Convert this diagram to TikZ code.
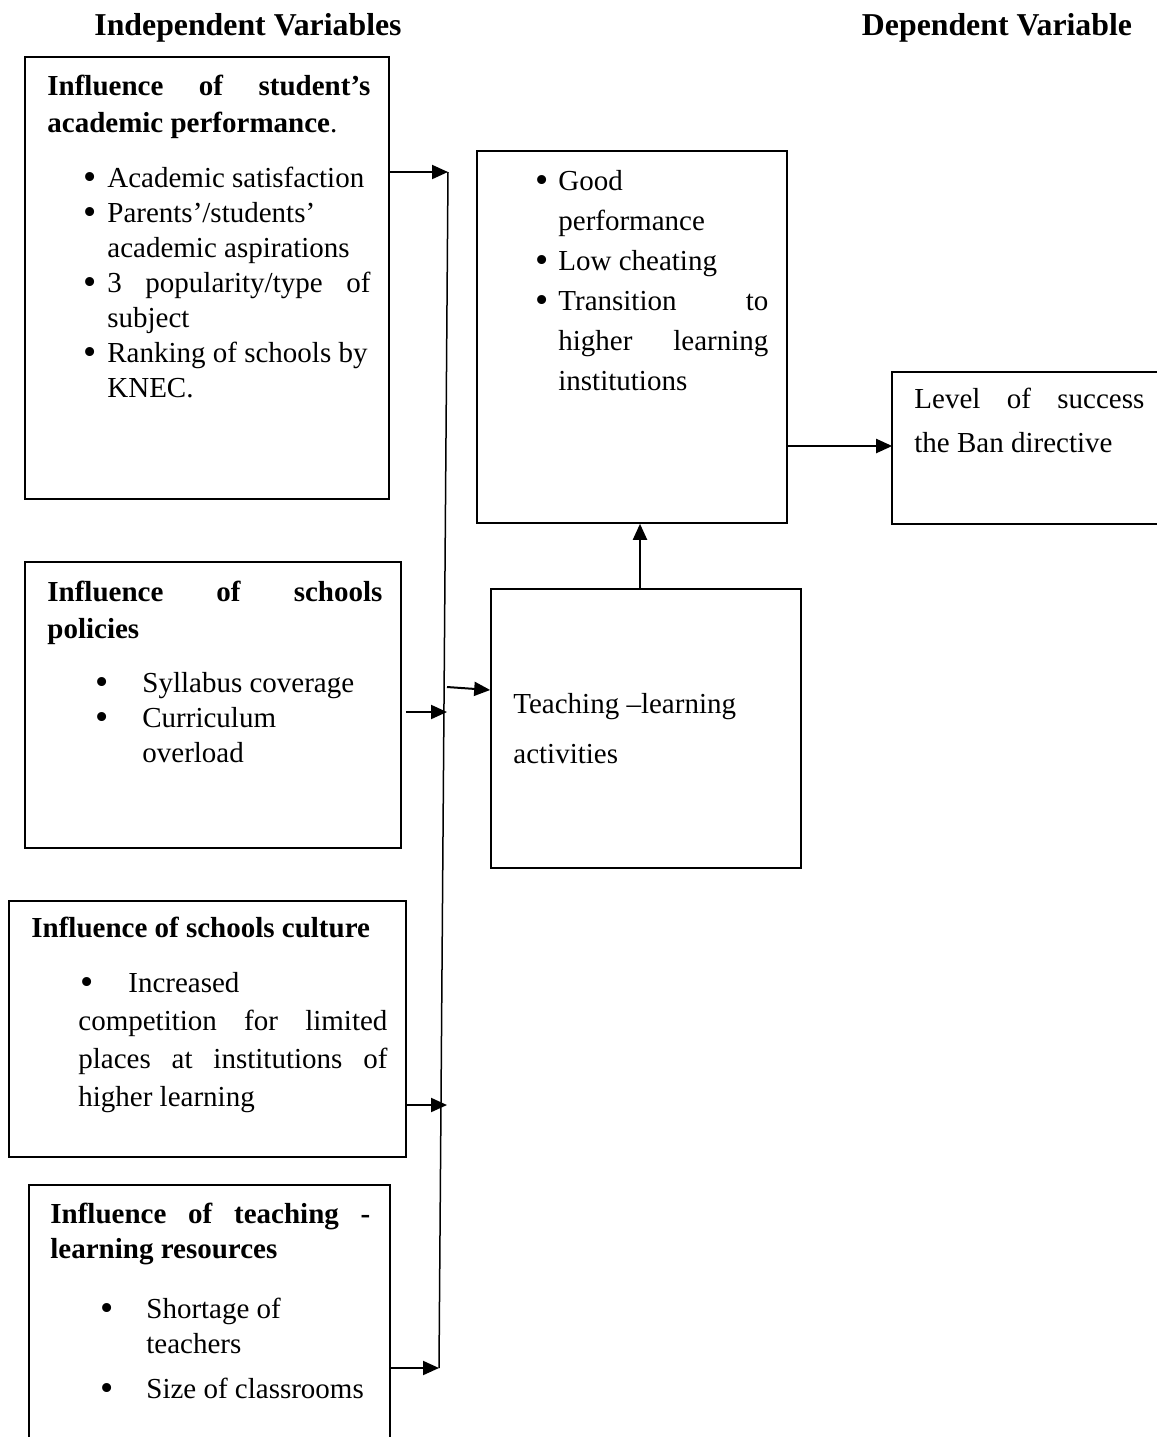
\documentclass[tikz,border=0pt]{standalone}
\usepackage{fontspec}
\setmainfont{Liberation Serif}
\usetikzlibrary{arrows.meta}
\newcommand{\bsym}{\raisebox{-0.1em}{\scalebox{1.3}{\textbullet}}}
\newcommand{\firstbul}[1]{\noindent\llap{\makebox[#1][l]{\bsym}}}
\newcommand{\bul}[1]{\par\firstbul{#1}}

\begin{document}
\begin{tikzpicture}[x=0.5pt,y=-0.5pt,
		box/.style={draw,line width=0.8pt,rectangle,inner sep=0pt},
		txt/.style={anchor=base west,inner sep=0pt,align=justify,font=\fontsize{14.5pt}{17.5pt}\selectfont},
		head/.style={anchor=base,inner sep=0pt,font=\fontsize{15.9pt}{19pt}\selectfont\bfseries},
		arr/.style={-{Triangle[length=8pt,width=7pt]},line width=1pt}]
		\useasboundingbox (0,0) rectangle (1157,1437);
		\node[head] (indep) at (248,35) {Independent Variables};
		\node[head] (dep) at (997,35) {Dependent Variable};
		\node[box,minimum width=182pt,minimum height=221pt] (acad) at (207,278) {};
		\node[box,minimum width=188pt,minimum height=143pt] (pol) at (213,705) {};
		\node[box,minimum width=198.5pt,minimum height=128pt] (cult) at (207.5,1029) {};
		\node[box,draw=none,minimum width=179.5pt,minimum height=125.5pt] (res) at (209.5,1311.5) {};
		\draw[line width=0.8pt] (res.south west) -- (res.north west) -- (res.north east) -- (res.south east);
		\node[box,minimum width=155pt,minimum height=186pt] (perf) at (632,337) {};
		\node[box,minimum width=155pt,minimum height=139.5pt] (teach) at (646,728.5) {};
		\node[box,draw=none,minimum width=132pt,minimum height=75pt] (level) at (1025,448) {};
		\draw[line width=0.8pt] (level.north east) -- (level.north west) -- (level.south west) -- (level.south east);
		\node[txt,text width=161.5pt] (acadtxt) at (47,95) {\textbf{Influence\hfill of\hfill student’s}\\[1pt]
			\textbf{academic performance}.\par\vspace{10pt}\leftskip=30pt
			\bul{12pt}Academic satisfaction
			\bul{12pt}Parents’/students’\\academic aspirations
			\bul{12pt}3\hfill popularity/type\hfill of\\subject
			\bul{12pt}Ranking of schools by\\KNEC.\par};
		\node[txt,text width=167.5pt] (poltxt) at (47,601) {\textbf{Influence\hfill of\hfill schools}\\[1pt]
			\textbf{policies}\par\vspace{9.5pt}\leftskip=47.5pt
			\bul{23.5pt}Syllabus coverage
			\bul{23.5pt}Curriculum\\overload\par};
		\node[txt,text width=178pt] (culttxt) at (31,937) {\textbf{Influence of schools culture}\par
			\vspace{8.5pt}\leftskip=23.5pt\baselineskip=19pt
			\noindent\makebox[25pt][l]{\hspace{1pt}\bsym}Increased\\
			competition\hfill for\hfill limited\\
			places\hfill at\hfill institutions\hfill of\\
			higher learning\par};
		\node[txt,text width=160pt] (restxt) at (50,1223) {\textbf{Influence\hfill of\hfill teaching\hfill -}\\
			\textbf{learning resources}\par\vspace{12.5pt}\leftskip=48pt
			\bul{23pt}Shortage of\\teachers\par\vspace{5pt}
			\bul{23pt}Size of classrooms\par};
		\node[txt,text width=116.5pt] (perftxt) at (535,190) {\baselineskip=20pt\leftskip=11.5pt
			\firstbul{11.5pt}Good\\performance
			\bul{11.5pt}Low cheating
			\bul{11.5pt}Transition\hfill to\\higher\hfill learning\\institutions\par};
		\node[txt,text width=140pt] (teachtxt) at (513,713) {Teaching –learning\\[7.5pt]activities};
		\node[txt,text width=115pt] (leveltxt) at (914,408) {Level\hfill of\hfill success\\[4.5pt]the Ban directive};
		\coordinate (bt) at (448,172);
		\coordinate (bb) at (439,1368);
		\coordinate (b2) at (447,712);
		\coordinate (b3) at (447,1105);
		\coordinate (bt2) at (447,687);
		\draw[line width=0.75pt] (bt) -- (bb);
		\draw[arr] (acad.east |- bt) -- (bt);
		\draw[arr] ([xshift=2pt]pol.east |- b2) -- (b2);
		\draw[arr] (cult.east |- b3) -- (b3);
		\draw[arr] (res.east |- bb) -- (bb);
		\draw[arr] (bt2) -- ([yshift=19.25pt]teach.west);
		\draw[arr] ([xshift=-3pt]teach.north) -- ([xshift=4pt]perf.south);
		\draw[arr] ([yshift=-54.5pt]perf.east) -- ([yshift=-54.5pt]perf.east -| level.west);
\end{tikzpicture}
\end{document}
